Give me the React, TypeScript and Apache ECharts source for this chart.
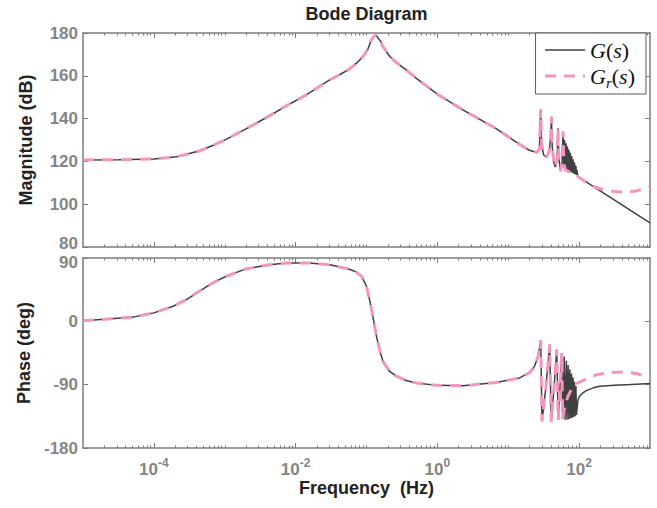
import React, { useEffect, useRef } from 'react';
import * as echarts from 'echarts';

// ---------------- data (x = log10 of frequency in Hz) ----------------
const freqLogRange = [-5, 3];
const labeledDecades = [-4, -2, 0, 2];
const unlabeledDecades = [-3, -1, 1];
const minorFactors = [2, 3, 4, 5, 6, 7, 8, 9];

const magTicks = [80, 100, 120, 140, 160, 180];
const phaseTicks = [-180, -90, 0, 90];

// Magnitude (dB) shared by G(s) and Gr(s)
const magShared: [number, number][] = [
  [-5.0, 120.7], [-4.5, 120.8], [-4.0, 121.1], [-3.68, 122.2], [-3.54, 123.3],
  [-3.35, 125.0], [-3.17, 127.4], [-2.98, 130.3], [-2.7, 135.2], [-2.41, 140.5],
  [-2.13, 146.0], [-1.85, 151.1], [-1.52, 158.1], [-1.38, 160.5], [-1.24, 163.1],
  [-1.14, 165.9], [-1.05, 169.0], [-0.98, 172.5], [-0.93, 176.9], [-0.89, 178.6],
  [-0.87, 179.2], [-0.84, 177.8], [-0.8, 176.1], [-0.77, 173.7], [-0.67, 169.0],
  [-0.58, 166.2], [-0.44, 162.8], [-0.3, 158.9], [0.0, 151.4], [0.36, 144.1],
  [0.83, 135.3], [1.21, 126.9], [1.3, 125.2], [1.4, 124.2], [1.44, 125.5],
  [1.458, 144.3], [1.47, 128.0], [1.5, 123.0], [1.54, 122.0], [1.58, 125.0],
  [1.6, 132.0], [1.609, 140.9], [1.62, 127.0], [1.645, 119.0], [1.665, 117.4],
  [1.69, 121.0], [1.702, 135.5], [1.715, 121.0], [1.74, 115.5], [1.76, 120.0],
  [1.773, 133.9],
];
const magGTail: [number, number][] = [
  [1.785, 117], [1.795, 130], [1.805, 116.5], [1.815, 128.5], [1.825, 116],
  [1.835, 127], [1.845, 115.8], [1.855, 125.5], [1.865, 115.5], [1.875, 124],
  [1.885, 115], [1.895, 122.5], [1.905, 114.7], [1.915, 121], [1.925, 114.3],
  [1.935, 119.5], [1.945, 114], [1.955, 118], [1.962, 113.7], [1.97, 116],
  [1.98, 113], [2.0, 112.5], [2.5, 101.9], [3.0, 91.3],
];
const magGrTail: [number, number][] = [
  [1.785, 119], [1.806, 116], [1.85, 115.3], [1.9, 114.9], [1.94, 114.4],
  [1.98, 113.2], [2.0, 112.5], [2.055, 111.3], [2.1, 110.3], [2.2, 108.4],
  [2.3, 107.2], [2.47, 106.0], [2.67, 105.6], [2.8, 106.2], [2.9, 107.0], [3.0, 108.0],
];

// Phase (deg) shared by G(s) and Gr(s)
const phaseShared: [number, number][] = [
  [-5.0, 1], [-4.6, 3.5], [-4.29, 6], [-4.0, 12], [-3.73, 21.4], [-3.54, 30.9],
  [-3.36, 42.7], [-3.17, 54.6], [-2.98, 64], [-2.7, 74.5], [-2.4, 80], [-2.13, 83],
  [-1.8, 83], [-1.5, 80], [-1.24, 74], [-1.14, 70], [-1.07, 64], [-1.0, 50],
  [-0.955, 30], [-0.91, 7], [-0.86, -21], [-0.81, -42.6], [-0.767, -56.8],
  [-0.673, -71], [-0.578, -78], [-0.44, -84], [-0.3, -87.5], [0.0, -91],
  [0.36, -91.5], [0.83, -87], [1.16, -80.4], [1.3, -73], [1.37, -64], [1.42, -50],
  [1.458, -27], [1.476, -142], [1.53, -95], [1.585, -33], [1.606, -143],
  [1.645, -95], [1.684, -40], [1.705, -140], [1.73, -95], [1.754, -45], [1.768, -138],
];
const phaseGTail: [number, number][] = [
  [1.79, -50], [1.8, -140], [1.82, -56], [1.828, -140], [1.845, -62], [1.853, -139],
  [1.87, -68], [1.878, -138], [1.893, -74], [1.9, -137], [1.915, -80], [1.922, -136],
  [1.935, -86], [1.942, -135], [1.955, -92], [1.962, -133], [1.975, -120],
  [1.985, -111], [2.008, -106], [2.05, -102], [2.1, -98.5], [2.2, -94.5],
  [2.29, -92.3], [2.5, -90.8], [2.67, -90], [3.0, -88.5],
];
const phaseGrTail: [number, number][] = [
  [1.796, -121], [1.843, -106.5], [1.9, -95], [1.96, -88.5], [2.1, -82],
  [2.24, -76], [2.4, -73], [2.62, -72], [2.8, -74], [3.0, -79.5],
];

// ---------------- styling ----------------
const FONT = '"Liberation Sans", Arial, Helvetica, sans-serif';
const SERIF = '"Liberation Serif", "Times New Roman", serif';
const frameGrey = '#7d7d7d';
const labelGrey = '#858585';
const ink = '#222222';
const gColor = '#404040';
const grColor = '#f396bf';

const minorTickValues: number[] = [];
for (let n = freqLogRange[0]; n < freqLogRange[1]; n++) {
  minorFactors.forEach((k) => minorTickValues.push(n + Math.log10(k)));
}
unlabeledDecades.forEach((d) => minorTickValues.push(d));

const axisLineStyle = { show: true, onZero: false, lineStyle: { color: frameGrey, width: 1.5 } };

function makeXAxes(gridIndex: number, withLabels: boolean) {
  const base: any = {
    type: 'value',
    gridIndex,
    min: freqLogRange[0],
    max: freqLogRange[1],
    splitLine: { show: false },
    axisLine: axisLineStyle,
  };
  const major: any = {
    show: true,
    inside: true,
    length: 5,
    customValues: labeledDecades,
    lineStyle: { color: frameGrey, width: 1 },
  };
  const minor: any = {
    show: true,
    inside: true,
    length: 2.5,
    customValues: minorTickValues,
    lineStyle: { color: frameGrey, width: 1 },
  };
  const bottomLabel = withLabels
    ? {
        show: true,
        customValues: labeledDecades,
        margin: 9,
        formatter: (v: number) => `{b|10}{s|${v}}`,
        rich: {
          b: { fontSize: 17, fontWeight: 'bold', color: labelGrey, fontFamily: FONT, lineHeight: 24 },
          s: { fontSize: 12, fontWeight: 'bold', color: labelGrey, fontFamily: FONT, lineHeight: 12, verticalAlign: 'top' },
        },
      }
    : { show: false };
  const bottom: any = { ...base, position: 'bottom', axisTick: major, axisLabel: bottomLabel };
  if (withLabels) {
    bottom.name = 'Frequency  (Hz)';
    bottom.nameLocation = 'middle';
    bottom.nameGap = 31;
    bottom.nameTextStyle = { fontSize: 18, fontWeight: 'bold', color: ink, fontFamily: FONT };
  }
  return [
    bottom,
    { ...base, position: 'top', axisTick: major, axisLabel: { show: false } },
    { ...base, position: 'bottom', axisLine: { show: false, onZero: false }, axisTick: minor, axisLabel: { show: false } },
    { ...base, position: 'top', axisLine: { show: false, onZero: false }, axisTick: minor, axisLabel: { show: false } },
  ];
}

const yLabelFont = { fontSize: 17, fontWeight: 'bold', color: labelGrey, fontFamily: FONT };

// edge: 'raiseMin' lifts the lowest label a little, 'lowerMax' drops the highest one
function makeYAxes(gridIndex: number, ticks: number[], name: string, edge: 'raiseMin' | 'lowerMax') {
  const minValue = ticks[0];
  const maxValue = ticks[ticks.length - 1];
  const base: any = {
    type: 'value',
    gridIndex,
    min: minValue,
    max: maxValue,
    interval: ticks[1] - ticks[0],
    splitLine: { show: false },
    axisLine: axisLineStyle,
    axisTick: { show: true, inside: true, length: 5, lineStyle: { color: frameGrey, width: 1 } },
  };
  return [
    {
      ...base,
      position: 'left',
      axisLabel: {
        show: true, margin: 5, lineHeight: 11, ...yLabelFont,
        formatter: (v: number) => {
          if (edge === 'raiseMin' && v === minValue) return `{up|${v}}`;
          if (edge === 'lowerMax' && v === maxValue) return `{down|${v}}`;
          return `{n|${v}}`;
        },
        rich: {
          n: { ...yLabelFont, lineHeight: 11 },
          up: { ...yLabelFont, lineHeight: 11, padding: [0, 0, 7, 0] },
          down: { ...yLabelFont, lineHeight: 11, padding: [9, 0, 0, 0] },
        },
      },
      name,
      nameLocation: 'middle',
      nameGap: 48,
      nameTextStyle: { fontSize: 18, fontWeight: 'bold', color: ink, fontFamily: FONT },
    },
    { ...base, position: 'right', axisLabel: { show: false } },
  ];
}

const legendRich = {
  i: { fontFamily: SERIF, fontStyle: 'italic', fontSize: 22, color: '#111', lineHeight: 28 },
  n: { fontFamily: SERIF, fontSize: 22, color: '#111', lineHeight: 28 },
  sub: { fontFamily: SERIF, fontStyle: 'italic', fontSize: 15, color: '#111', lineHeight: 15, verticalAlign: 'bottom' },
};

export default function App() {
  const ref = useRef<HTMLDivElement>(null);
  useEffect(() => {
    if (!ref.current) return;
    const chart = echarts.init(ref.current, undefined, { renderer: 'svg' });
    const gLine = { color: gColor, width: 1.5 };
    const grLine = { color: grColor, width: 3, type: [11, 8], cap: 'butt' };
    const option: any = {
      animation: false,
      backgroundColor: '#ffffff',
      textStyle: { fontFamily: FONT },
      graphic: [
        {
          type: 'text',
          style: {
            text: 'Bode Diagram',
            x: 366.5,
            y: 14,
            align: 'center',
            verticalAlign: 'middle',
            fontSize: 18,
            fontWeight: 'bold',
            fontFamily: FONT,
            fill: ink,
          },
        },
      ],
      grid: [
        { left: 83, top: 33, width: 567, height: 214 },
        { left: 83, top: 258, width: 567, height: 190 },
      ],
      xAxis: [...makeXAxes(0, false), ...makeXAxes(1, true)],
      yAxis: [
        ...makeYAxes(0, magTicks, 'Magnitude (dB)', 'raiseMin'),
        ...makeYAxes(1, phaseTicks, 'Phase (deg)', 'lowerMax'),
      ],
      legend: {
        data: ['G', 'Gr'],
        orient: 'vertical',
        right: 11,
        top: 33,
        padding: [6, 11, 4, 8],
        itemGap: 4,
        itemWidth: 40,
        itemHeight: 14,
        selectedMode: false,
        backgroundColor: '#ffffff',
        borderColor: '#5a5a5a',
        borderWidth: 1,
        borderRadius: 0,
        itemStyle: { opacity: 0 },
        lineStyle: { width: 'inherit' },
        formatter: (name: string) =>
          name === 'G' ? '{i|G}{n|(}{i|s}{n|)}' : '{i|G}{sub|r}{n|(}{i|s}{n|)}',
        textStyle: { rich: legendRich },
      },
      series: [
        {
          name: 'G', type: 'line', xAxisIndex: 0, yAxisIndex: 0,
          data: [...magShared, ...magGTail], symbol: 'none', showSymbol: false,
          lineStyle: gLine, itemStyle: { color: gColor }, z: 2,
        },
        {
          name: 'Gr', type: 'line', xAxisIndex: 0, yAxisIndex: 0,
          data: [...magShared, ...magGrTail], symbol: 'none', showSymbol: false,
          lineStyle: grLine, itemStyle: { color: grColor }, z: 3,
        },
        {
          name: 'G', type: 'line', xAxisIndex: 4, yAxisIndex: 2,
          data: [...phaseShared, ...phaseGTail], symbol: 'none', showSymbol: false,
          lineStyle: gLine, itemStyle: { color: gColor }, z: 2,
        },
        {
          name: 'Gr', type: 'line', xAxisIndex: 4, yAxisIndex: 2,
          data: [...phaseShared, ...phaseGrTail], symbol: 'none', showSymbol: false,
          lineStyle: grLine, itemStyle: { color: grColor }, z: 3,
        },
      ],
    };
    chart.setOption(option);
    return () => chart.dispose();
  }, []);
  return (
    <div
      ref={ref}
      style={{ position: 'absolute', left: 0, top: 0, width: 657, height: 508, background: '#fff' }}
    />
  );
}
